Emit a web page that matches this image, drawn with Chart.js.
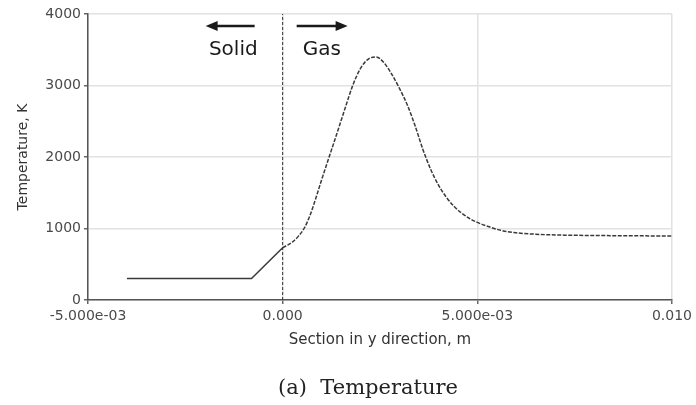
<!DOCTYPE html>
<html>
<head>
<meta charset="utf-8">
<script src="https://cdn.jsdelivr.net/npm/chart.js@4.4.0/dist/chart.umd.min.js"></script>
<style>
html, body { margin: 0; padding: 0; background: #fff; }
#wrap { width: 696px; height: 405px; }
</style>
</head>
<body>
<div id="wrap"><canvas id="canvas" width="696" height="405"></canvas></div>
<script>
// position along y section (m) and temperature (K)
var posX = [-0.004, -0.0008, 0, 0.00025, 0.0004, 0.00055, 0.0007, 0.00085, 0.001, 0.0012,
	0.0014, 0.0016, 0.0018, 0.002, 0.0022, 0.0024, 0.0026, 0.0028, 0.003, 0.0032,
	0.0034, 0.0036, 0.0038, 0.004, 0.0042, 0.0044, 0.0046, 0.0048, 0.005, 0.0053,
	0.0056, 0.006, 0.0065, 0.007, 0.008, 0.009, 0.010];
var tempK = [300, 300, 730, 810, 890, 1000, 1180, 1420, 1680, 2010,
	2340, 2675, 3000, 3240, 3370, 3400, 3320, 3160, 2960, 2730,
	2440, 2110, 1830, 1610, 1440, 1310, 1215, 1140, 1085, 1025,
	975, 940, 920, 910, 902, 898, 895];

// solid / gas interface
var wallX = [0, 0];
var wallY = [0, 4000];

var xTickLabels = ['-5.000e-03', '0.000', '5.000e-03', '0.010'];
var yTickValues = [0, 1000, 2000, 3000, 4000];
var caption = '(a)  Temperature';

function points(xs, ys, keep) {
	var out = [];
	for (var i = 0; i < xs.length; i++) {
		if (keep(xs[i])) out.push({x: xs[i], y: ys[i]});
	}
	return out;
}

function drawArrow(ctx, fromX, toX, y) {
	var dir = toX > fromX ? 1 : -1;
	ctx.lineWidth = 2.5;
	ctx.beginPath();
	ctx.moveTo(fromX, y);
	ctx.lineTo(toX - dir * 9, y);
	ctx.stroke();
	ctx.beginPath();
	ctx.moveTo(toX, y);
	ctx.lineTo(toX - dir * 12, y - 5);
	ctx.lineTo(toX - dir * 12, y + 5);
	ctx.closePath();
	ctx.fill();
}

var annotations = {
	id: 'annotations',
	afterDraw: function (chart) {
		var ctx = chart.ctx;
		var x0 = chart.scales.x.getPixelForValue(0);
		ctx.save();
		ctx.fillStyle = '#1a1a1a';
		ctx.strokeStyle = '#1a1a1a';
		ctx.font = '20px "DejaVu Sans"';
		ctx.textBaseline = 'middle';
		ctx.textAlign = 'right';
		ctx.fillText('Solid', x0 - 25, 50);
		ctx.textAlign = 'left';
		ctx.fillText('Gas', x0 + 20, 50);
		drawArrow(ctx, x0 - 28, x0 - 77, 26);
		drawArrow(ctx, x0 + 14, x0 + 65, 26);
		ctx.fillStyle = '#222';
		ctx.font = '21px "DejaVu Serif"';
		ctx.textAlign = 'center';
		ctx.fillText(caption, 368, 389);
		ctx.restore();
	}
};

var config = {
	type: 'line',
	data: {
		datasets: [{
			label: 'Solid',
			data: points(posX, tempK, function (x) { return x <= 0; }),
			borderColor: '#3a3a3a',
			borderWidth: 1.5,
			pointRadius: 0,
			tension: 0
		}, {
			label: 'Gas',
			data: points(posX, tempK, function (x) { return x >= 0; }),
			borderColor: '#3a3a3a',
			borderWidth: 1.5,
			borderDash: [4, 1.5],
			pointRadius: 0,
			cubicInterpolationMode: 'monotone'
		}, {
			label: 'Interface',
			data: points(wallX, wallY, function () { return true; }),
			borderColor: '#333',
			borderWidth: 1,
			borderDash: [3, 2],
			pointRadius: 0
		}]
	},
	options: {
		responsive: false,
		animation: false,
		layout: {
			padding: {left: 0, top: 14, right: 23, bottom: 55}
		},
		plugins: {
			legend: {display: false},
			tooltip: {enabled: false}
		},
		scales: {
			x: {
				type: 'linear',
				min: -0.005,
				max: 0.010,
				afterFit: function (scale) { scale.height = 50; },
				ticks: {
					stepSize: 0.005,
					color: '#4a4a4a',
					padding: 4,
					maxRotation: 0,
					font: {family: 'DejaVu Sans', size: 14},
					callback: function (value, index) { return xTickLabels[index]; }
				},
				grid: {
					color: '#e2e2e2',
					lineWidth: 1.5,
					tickColor: '#666',
					tickLength: 4
				},
				border: {color: '#555', width: 1.5},
				title: {
					display: true,
					text: 'Section in y direction, m',
					color: '#333',
					padding: {top: 0, bottom: 1},
					font: {family: 'DejaVu Sans', size: 15}
				}
			},
			y: {
				min: 0,
				max: 4000,
				afterFit: function (scale) { scale.width = 88; },
				afterBuildTicks: function (scale) {
					scale.ticks = yTickValues.map(function (v) { return {value: v}; });
				},
				ticks: {
					color: '#4a4a4a',
					padding: 3,
					font: {family: 'DejaVu Sans', size: 14},
					callback: function (value) { return String(value); }
				},
				grid: {
					color: '#e2e2e2',
					lineWidth: 1.5,
					tickColor: '#666',
					tickLength: 4
				},
				border: {color: '#555', width: 1.5},
				title: {
					display: true,
					text: 'Temperature, K',
					color: '#333',
					padding: {top: 15, bottom: 0},
					font: {family: 'DejaVu Sans', size: 14}
				}
			}
		}
	},
	plugins: [annotations]
};

window.onload = function () {
	window.tempChart = new Chart(document.getElementById('canvas'), config);
};
</script>
</body>
</html>
